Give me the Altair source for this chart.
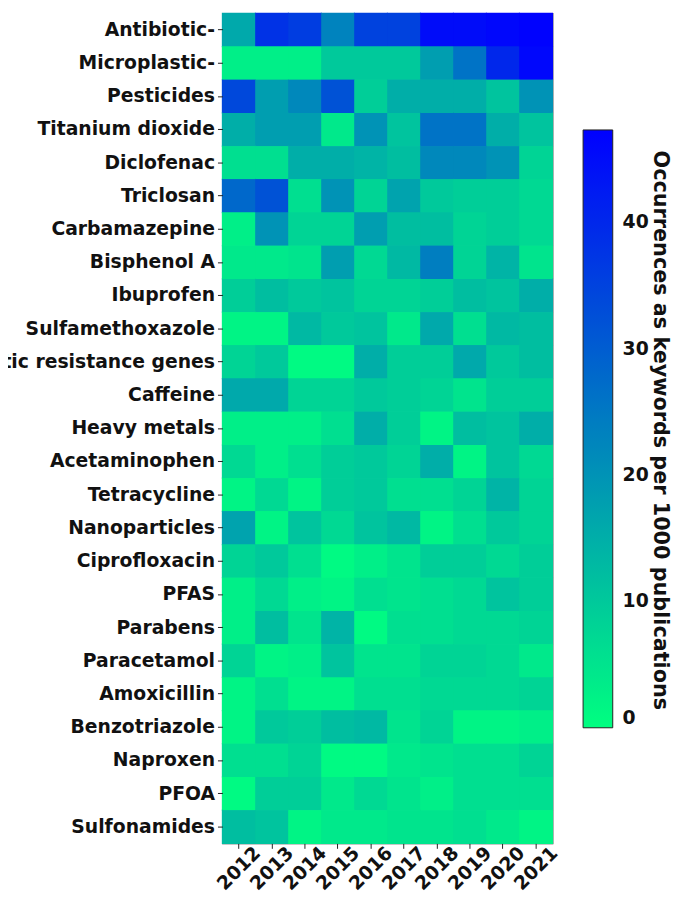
import altair as alt
import pandas as pd

years = ["2012", "2013", "2014", "2015", "2016", "2017", "2018", "2019", "2020", "2021"]

compounds = [
    "Antibiotic-", "Microplastic-", "Pesticides", "Titanium dioxide", "Diclofenac",
    "Triclosan", "Carbamazepine", "Bisphenol A", "Ibuprofen", "Sulfamethoxazole",
    "Antibiotic resistance genes", "Caffeine", "Heavy metals", "Acetaminophen",
    "Tetracycline", "Nanoparticles", "Ciprofloxacin", "PFAS", "Parabens",
    "Paracetamol", "Amoxicillin", "Benzotriazole", "Naproxen", "PFOA", "Sulfonamides",
]

antibiotic = [16, 38, 36, 23, 35, 35, 45, 45, 46, 47]
microplastic = [3, 3, 3, 10, 10, 10, 18, 26, 40, 46]
pesticides = [34, 18, 22, 32, 9, 15, 15, 15, 11, 20]
titanium_dioxide = [15, 18, 18, 4, 20, 11, 26, 26, 15, 11]
diclofenac = [6, 6, 15, 15, 14, 12, 22, 22, 20, 8]
triclosan = [28, 32, 6, 20, 8, 17, 10, 9, 9, 7]
carbamazepine = [3, 20, 8, 8, 18, 12, 12, 8, 9, 7]
bisphenol_a = [4, 4, 5, 18, 7, 13, 24, 8, 14, 5]
ibuprofen = [9, 12, 10, 11, 8, 8, 9, 12, 11, 15]
sulfamethoxazole = [2, 2, 13, 10, 11, 4, 16, 6, 13, 12]
arg = [8, 10, 1, 1, 15, 9, 9, 16, 10, 12]
caffeine = [16, 16, 8, 8, 10, 9, 8, 5, 9, 9]
heavy_metals = [3, 3, 3, 6, 15, 9, 2, 12, 11, 15]
acetaminophen = [7, 3, 6, 9, 10, 8, 15, 2, 11, 7]
tetracycline = [2, 7, 2, 9, 10, 6, 6, 8, 14, 8]
nanoparticles = [17, 2, 11, 7, 11, 13, 2, 6, 10, 8]
ciprofloxacin = [8, 10, 6, 1, 3, 5, 9, 9, 7, 9]
pfas = [3, 7, 3, 2, 6, 5, 6, 7, 11, 9]
parabens = [3, 12, 5, 14, 1, 6, 6, 7, 7, 8]
paracetamol = [8, 2, 3, 11, 5, 5, 8, 8, 7, 4]
amoxicillin = [2, 6, 2, 2, 6, 6, 7, 7, 7, 8]
benzotriazole = [2, 10, 9, 12, 13, 5, 8, 2, 2, 3]
naproxen = [6, 6, 8, 1, 1, 4, 5, 6, 6, 8]
pfoa = [1, 9, 9, 4, 7, 5, 3, 6, 6, 6]
sulfonamides = [12, 11, 2, 4, 4, 5, 5, 6, 4, 2]

rows = [
    antibiotic, microplastic, pesticides, titanium_dioxide, diclofenac, triclosan,
    carbamazepine, bisphenol_a, ibuprofen, sulfamethoxazole, arg, caffeine,
    heavy_metals, acetaminophen, tetracycline, nanoparticles, ciprofloxacin, pfas,
    parabens, paracetamol, amoxicillin, benzotriazole, naproxen, pfoa, sulfonamides,
]

records = []
for name, vals in zip(compounds, rows):
    for yr, v in zip(years, vals):
        records.append({"compound": name, "year": yr, "value": v, "edge": v})
df = pd.DataFrame(records)

colorbar_title = "Occurrences as keywords per 1000 publications"
FONT = "DejaVu Sans"

def cscale():
    return alt.Scale(domain=[0, 47.3], range=["#00ff80", "#0000ff"],
                     interpolate="rgb", nice=False)

x_enc = alt.X("year:O", sort=years, scale=alt.Scale(paddingInner=0, paddingOuter=0),
              axis=alt.Axis(title=None, labelAngle=-45, labelAlign="center",
                            labelBaseline="middle", labelPadding=20, tickSize=5,
                            labelFont=FONT, labelFontSize=19, labelFontWeight="bold",
                            labelColor="#111", tickColor="#222", domain=False))
y_enc = alt.Y("compound:N", sort=compounds, scale=alt.Scale(paddingInner=0, paddingOuter=0),
              axis=alt.Axis(title=None, tickSize=5, labelPadding=3, labelLimit=500,
                            labelFont=FONT, labelFontSize=19, labelFontWeight="bold",
                            labelColor="#111", tickColor="#222", domain=False))

# stroke-only underlay that hides anti-aliasing seams between cells
under = alt.Chart(df).mark_rect(strokeWidth=1.2, fillOpacity=0).encode(
    x=x_enc, y=y_enc,
    stroke=alt.Stroke("edge:Q", scale=cscale(), legend=None),
)

heat = alt.Chart(df).mark_rect().encode(
    x=x_enc, y=y_enc,
    color=alt.Color("value:Q", scale=cscale(),
                    legend=alt.Legend(orient="none", legendX=365, legendY=118,
                                      direction="vertical", gradientLength=605,
                                      gradientThickness=30, title=None,
                                      values=[0, 10, 20, 30, 40], labelOverlap=False,
                                      labelFont=FONT, labelFontSize=19,
                                      labelFontWeight="bold", labelColor="#111",
                                      labelOffset=10, gradientStrokeColor="#222",
                                      gradientStrokeWidth=1)),
)

title_df = pd.DataFrame({"t": [colorbar_title]})
title_text = alt.Chart(title_df).mark_text(
    angle=90, align="center", baseline="middle", font=FONT, fontSize=21,
    fontWeight="bold", color="#111",
).encode(text="t:N", x=alt.value(443), y=alt.value(422))

chart = alt.layer(under, heat, title_text).resolve_legend(
    color="independent", stroke="independent"
).properties(
    width=334, height=840,
    autosize=alt.AutoSizeParams(type="none"),
    padding={"left": 217, "top": 0, "right": 123, "bottom": 62},
).configure_view(stroke="#222", strokeWidth=1.2)

chart.save("out.html", embed_options={"renderer": "svg", "actions": False})
